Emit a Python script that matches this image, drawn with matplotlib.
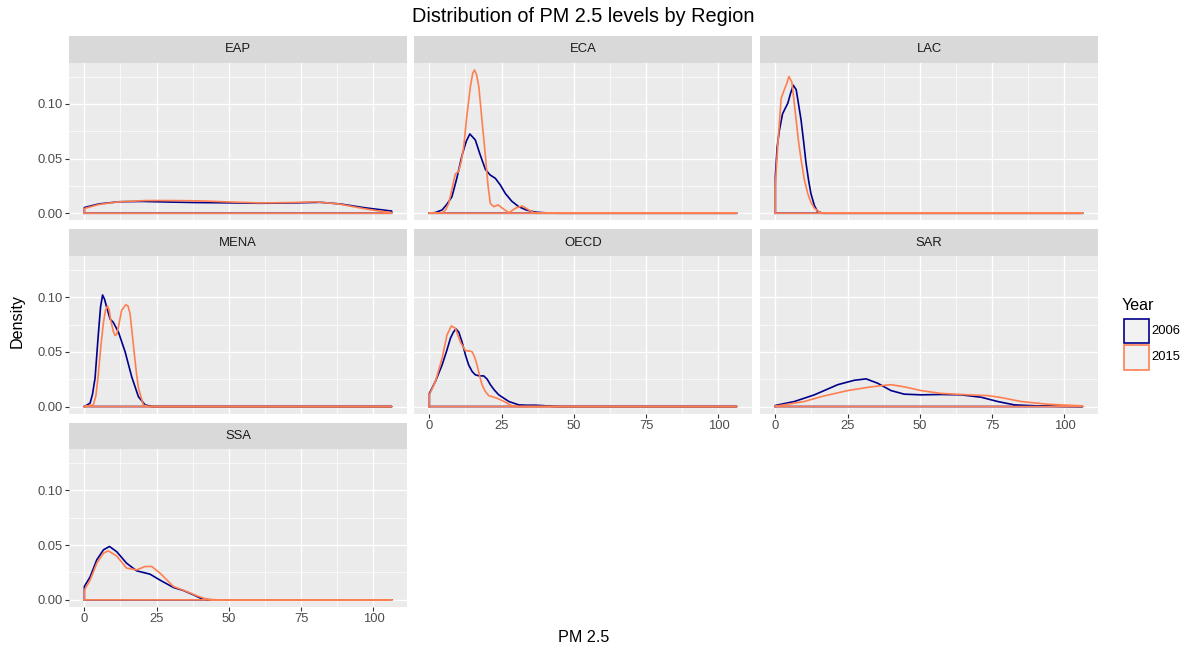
import matplotlib
matplotlib.use("Agg")
import matplotlib.pyplot as plt
from matplotlib.patches import Rectangle
from matplotlib.ticker import MultipleLocator

plt.rcParams['font.family'] = ['Liberation Sans', 'DejaVu Sans']

# ---------------- data ----------------
regions = ["EAP", "ECA", "LAC", "MENA", "OECD", "SAR", "SSA"]
years = ["2006", "2015"]
year_colors = ["#00008B", "#FF7F50"]
x_data_max = 106.3
x_ticks = [0, 25, 50, 75, 100]
x_tick_labels = ["0", "25", "50", "75", "100"]
y_ticks = [0.0, 0.05, 0.10]
y_tick_labels = ["0.00", "0.05", "0.10"]

eap_2006_x = [0, 5, 12, 20, 30, 38, 50, 61, 72, 81.5, 88.5, 97, 106.3]
eap_2006_y = [0.0052, 0.0085, 0.0105, 0.0108, 0.0102, 0.0098, 0.0095, 0.0091, 0.0094, 0.0100, 0.0085, 0.0050, 0.0020]
eap_2015_x = [0, 5, 12, 21.6, 30, 40, 49, 61, 72, 80, 88, 97, 106.3]
eap_2015_y = [0.0043, 0.0080, 0.0105, 0.0116, 0.0116, 0.0113, 0.0104, 0.0094, 0.0098, 0.0104, 0.0085, 0.0040, 0.0005]

eca_2006_x = [0, 2, 4.4, 6, 7.8, 9.5, 11.3, 12.8, 14, 15.9, 17.5, 19.4, 21, 22.8, 24.5, 26.3, 28.5, 30.9, 33.5, 36.7, 40, 44.8, 106.3]
eca_2006_y = [0.0, 0.0006, 0.003, 0.008, 0.015, 0.032, 0.053, 0.066, 0.0725, 0.067, 0.054, 0.040, 0.035, 0.032, 0.026, 0.018, 0.011, 0.006, 0.003, 0.001, 0.0004, 0.0, 0.0]
eca_2015_x = [0, 4.4, 5.6, 6.7, 7.8, 9.0, 10.1, 11.0, 11.9, 13.0, 14.2, 15.0, 15.6, 16.3, 17.1, 18.2, 19.4, 20.3, 21.1, 22.3, 23.8, 25.7, 27.5, 29.8, 32.1, 34.4, 36.7, 106.3]
eca_2015_y = [0.0, 0.0003, 0.003, 0.009, 0.022, 0.036, 0.038, 0.047, 0.061, 0.090, 0.116, 0.128, 0.131, 0.127, 0.116, 0.085, 0.052, 0.025, 0.009, 0.006, 0.0076, 0.0037, 0.0006, 0.0046, 0.0067, 0.003, 0.0, 0.0]

lac_2006_x = [0, 0.6, 1.4, 2.5, 4.3, 5.3, 6.2, 7.2, 8.0, 8.9, 9.8, 10.6, 11.5, 12.3, 13.5, 14.6, 16.5, 106.3]
lac_2006_y = [0.0335, 0.060, 0.076, 0.091, 0.1006, 0.110, 0.117, 0.113, 0.100, 0.085, 0.065, 0.046, 0.030, 0.018, 0.007, 0.0015, 0.0, 0.0]
lac_2015_x = [0, 0.8, 2.0, 3.1, 4.0, 4.7, 5.7, 6.4, 7.2, 8.0, 8.9, 10.0, 11.2, 12.3, 13.5, 15.8, 106.3]
lac_2015_y = [0.025, 0.061, 0.105, 0.113, 0.119, 0.125, 0.120, 0.104, 0.085, 0.066, 0.049, 0.031, 0.018, 0.010, 0.0046, 0.0, 0.0]

mena_2006_x = [0, 1.96, 2.8, 3.7, 4.8, 5.6, 6.3, 7.0, 7.7, 8.9, 10.0, 11.8, 14.1, 16.4, 18.7, 21.0, 23.3, 106.3]
mena_2006_y = [0.0, 0.003, 0.011, 0.026, 0.065, 0.091, 0.102, 0.098, 0.091, 0.080, 0.077, 0.068, 0.050, 0.027, 0.009, 0.0015, 0.0, 0.0]
mena_2015_x = [0, 3.1, 4.0, 4.8, 5.7, 6.6, 7.3, 8.0, 8.6, 9.1, 10.0, 10.6, 11.2, 11.8, 12.9, 14.3, 15.1, 15.8, 16.5, 17.2, 18.0, 18.7, 20.4, 22.0, 106.3]
mena_2015_y = [0.0, 0.0015, 0.010, 0.029, 0.055, 0.077, 0.088, 0.092, 0.088, 0.079, 0.069, 0.065, 0.066, 0.073, 0.088, 0.093, 0.092, 0.085, 0.068, 0.050, 0.031, 0.017, 0.0015, 0.0, 0.0]

oecd_2006_x = [0, 2.1, 4.4, 6.0, 7.3, 8.3, 9.2, 10.2, 11.3, 12.5, 13.6, 14.8, 15.9, 17.3, 18.8, 20.0, 21.1, 22.5, 24.0, 27.5, 30.9, 33.5, 36.7, 39.5, 42.4, 45.0, 106.3]
oecd_2006_y = [0.012, 0.023, 0.038, 0.051, 0.0625, 0.068, 0.071, 0.068, 0.059, 0.047, 0.038, 0.032, 0.029, 0.028, 0.028, 0.025, 0.020, 0.015, 0.0107, 0.0046, 0.0015, 0.0012, 0.0012, 0.0008, 0.0002, 0.0, 0.0]
oecd_2015_x = [0, 2.1, 4.4, 6.1, 7.6, 9.0, 10.7, 12.5, 13.6, 14.8, 15.7, 16.5, 17.3, 18.2, 19.3, 20.5, 23.4, 26.3, 28.6, 31.0, 106.3]
oecd_2015_y = [0.0107, 0.023, 0.044, 0.0655, 0.0737, 0.0716, 0.059, 0.051, 0.051, 0.050, 0.045, 0.038, 0.029, 0.020, 0.014, 0.010, 0.0076, 0.004, 0.0006, 0.0, 0.0]

sar_2006_x = [0, 6.6, 13.5, 21.6, 27.3, 31.4, 35.4, 40.0, 44.6, 50.4, 57.3, 64.2, 71.2, 76.9, 82.7, 90.8, 98.0, 106.3]
sar_2006_y = [0.001, 0.0046, 0.0107, 0.020, 0.024, 0.0253, 0.0213, 0.0146, 0.0113, 0.0107, 0.011, 0.0107, 0.0085, 0.0046, 0.0015, 0.0006, 0.0002, 0.0]
sar_2015_x = [0, 10.0, 15.8, 25.0, 33.1, 40.0, 44.6, 50.4, 57.3, 66.6, 73.5, 78.1, 85.0, 94.2, 106.3]
sar_2015_y = [0.0003, 0.0046, 0.009, 0.0146, 0.018, 0.020, 0.018, 0.0146, 0.012, 0.0107, 0.010, 0.0082, 0.0046, 0.0021, 0.0006]

ssa_2006_x = [0, 2.0, 4.3, 6.6, 8.7, 11.2, 14.6, 18.1, 22.7, 26.2, 30.8, 34.3, 37.7, 40.6, 43.5, 106.3]
ssa_2006_y = [0.0122, 0.021, 0.0366, 0.0457, 0.0488, 0.044, 0.0335, 0.0265, 0.0235, 0.018, 0.0113, 0.0085, 0.0046, 0.001, 0.0, 0.0]
ssa_2015_x = [0, 2.0, 4.3, 6.6, 8.3, 11.2, 14.6, 18.1, 21.0, 23.3, 26.2, 30.8, 35.4, 38.9, 42.3, 45.8, 106.3]
ssa_2015_y = [0.009, 0.018, 0.0335, 0.0427, 0.0448, 0.040, 0.029, 0.0274, 0.0305, 0.0305, 0.0244, 0.0122, 0.0076, 0.0037, 0.0006, 0.0, 0.0]

curves = {
    "EAP": [(eap_2006_x, eap_2006_y), (eap_2015_x, eap_2015_y)],
    "ECA": [(eca_2006_x, eca_2006_y), (eca_2015_x, eca_2015_y)],
    "LAC": [(lac_2006_x, lac_2006_y), (lac_2015_x, lac_2015_y)],
    "MENA": [(mena_2006_x, mena_2006_y), (mena_2015_x, mena_2015_y)],
    "OECD": [(oecd_2006_x, oecd_2006_y), (oecd_2015_x, oecd_2015_y)],
    "SAR": [(sar_2006_x, sar_2006_y), (sar_2015_x, sar_2015_y)],
    "SSA": [(ssa_2006_x, ssa_2006_y), (ssa_2015_x, ssa_2015_y)],
}

# ---------------- layout ----------------
W, H = 1187, 648
fig = plt.figure(figsize=(W / 100, H / 100), dpi=100)

col_left = [69.0, 414.0, 760.0]
col_width = 338.0
strip_top = [36.0, 229.3, 422.6]
strip_h = 26.7
panel_h = 157.7

xlim = (-0.05 * x_data_max, x_data_max * 1.05)
ymax_data = 0.1311
ylim = (-0.05 * ymax_data, ymax_data * 1.05)

SMALL = 9.4
MED = 11.6
BIG = 14.3

def px_rect(left, top, w, h):
    return [left / W, 1 - (top + h) / H, w / W, h / H]

bottom_panels = {"SSA", "OECD", "SAR"}

for i, reg in enumerate(regions):
    r, c = divmod(i, 3)
    left = col_left[c]
    ptop = strip_top[r] + strip_h
    ax = fig.add_axes(px_rect(left, ptop, col_width, panel_h))
    ax.set_facecolor("#EBEBEB")
    for s in ax.spines.values():
        s.set_visible(False)
    ax.set_xlim(*xlim)
    ax.set_ylim(*ylim)
    ax.set_xticks(x_ticks)
    ax.set_yticks(y_ticks)
    ax.xaxis.set_minor_locator(MultipleLocator(12.5))
    ax.yaxis.set_minor_locator(MultipleLocator(0.025))
    ax.grid(which="major", color="white", lw=0.95)
    ax.grid(which="minor", color="white", lw=0.5)
    ax.set_axisbelow(True)
    ax.tick_params(which="minor", length=0)
    ax.tick_params(which="major", length=2.6, width=0.8, color="#333333",
                   labelcolor="#4D4D4D", labelsize=SMALL, pad=2)
    if reg in bottom_panels:
        ax.set_xticklabels(x_tick_labels)
    else:
        ax.tick_params(axis="x", which="major", length=0, labelbottom=False)
    if c == 0:
        ax.set_yticklabels(y_tick_labels)
    else:
        ax.tick_params(axis="y", which="major", length=0, labelleft=False)

    for (xs, ys), col in zip(curves[reg], year_colors):
        px = [xs[0]] + list(xs) + [xs[-1], xs[0]]
        py = [0.0] + list(ys) + [0.0, 0.0]
        ax.plot(px, py, color=col, lw=1.2, solid_joinstyle="round", clip_on=False)

    sax = fig.add_axes(px_rect(left, strip_top[r], col_width, strip_h))
    sax.set_facecolor("#D9D9D9")
    sax.set_xticks([]); sax.set_yticks([])
    for s in sax.spines.values():
        s.set_visible(False)
    sax.text(0.5, 0.5, reg, ha="center", va="center", fontsize=SMALL, color="#1A1A1A",
             transform=sax.transAxes)

fig.text(583.4 / W, 1 - 16 / H, "Distribution of PM 2.5 levels by Region",
         ha="center", va="center", fontsize=BIG, color="black")
fig.text(583.4 / W, 1 - 638 / H, "PM 2.5", ha="center", va="center", fontsize=MED)
fig.text(17 / W, 1 - 321 / H, "Density", ha="center", va="center", rotation=90, fontsize=MED)

fig.text(1122 / W, 1 - 306 / H, "Year", ha="left", va="center", fontsize=MED)
key_tops = [318.5, 345.0]
for kt, col, lab in zip(key_tops, year_colors, years):
    rect = Rectangle((1124 / W, 1 - (kt + 24.5) / H), 25 / W, 24.5 / H,
                     transform=fig.transFigure, facecolor="#F2F2F2",
                     edgecolor=col, lw=1.2)
    fig.patches.append(rect)
    fig.text(1151.5 / W, 1 - (kt + 12.5) / H, lab, ha="left", va="center", fontsize=SMALL)

fig.savefig("out.png", dpi=100)
